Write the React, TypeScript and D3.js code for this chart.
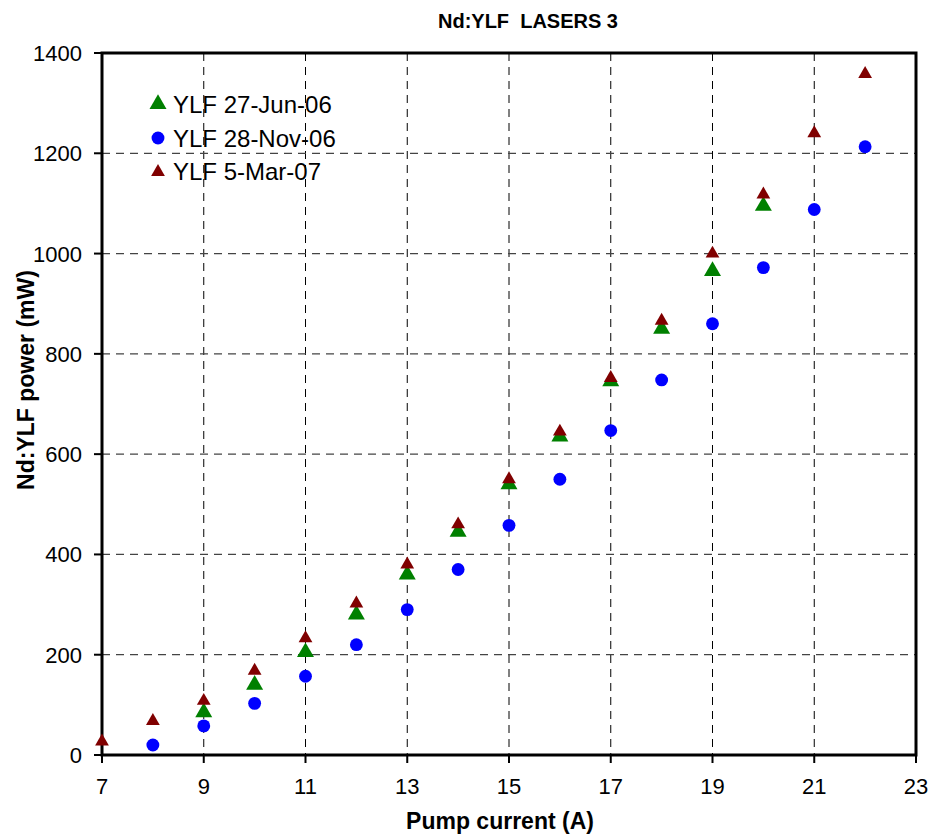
import * as d3 from 'd3';

const junCurrent = [9, 10, 11, 12, 13, 14, 15, 16, 17, 18, 19, 20];
const junPower = [85, 140, 205, 280, 360, 445, 540, 635, 745, 850, 965, 1095];

const novCurrent = [8, 9, 10, 11, 12, 13, 14, 15, 16, 17, 18, 19, 20, 21, 22];
const novPower = [20, 58, 103, 157, 220, 290, 370, 458, 550, 647, 748, 860, 972, 1088, 1213];

const marCurrent = [7, 8, 9, 10, 11, 12, 13, 14, 15, 16, 17, 18, 19, 20, 21, 22];
const marPower = [27, 68, 108, 168, 233, 302, 380, 460, 550, 645, 752, 866, 1000, 1118, 1240, 1358];

const xTicks = [7, 9, 11, 13, 15, 17, 19, 21, 23];
const yTicks = [0, 200, 400, 600, 800, 1000, 1200, 1400];

const legendLabels = ['YLF 27-Jun-06', 'YLF 28-Nov-06', 'YLF 5-Mar-07'];

const width = 934;
const height = 835;
const margin = { top: 53, right: 18, bottom: 80, left: 102 };

export default function App(): JSX.Element {
  const x = d3.scaleLinear()
    .domain([7, 23])
    .range([margin.left, width - margin.right]);

  const y = d3.scaleLinear()
    .domain([0, 1400])
    .range([height - margin.bottom, margin.top]);

  const bigTri = d3.symbol().type(d3.symbolTriangle).size(125)() || '';
  const smallTri = d3.symbol().type(d3.symbolTriangle).size(82)() || '';
  const dot = d3.symbol().type(d3.symbolCircle).size(130)() || '';

  const font = 'Arial, "Liberation Sans", sans-serif';
  const x0 = x(7), x1 = x(23), y0 = y(0), y1 = y(1400);

  return (
    <svg
      width={width}
      height={height}
      style={{ position: 'absolute', left: 0, top: 0, background: '#fff' }}
      fontFamily={font}
    >
      <text x={528} y={28} textAnchor="middle" fontSize={20} fontWeight="bold" style={{ whiteSpace: 'pre' }}>
        {'Nd:YLF  LASERS 3'}
      </text>

      {/* grid */}
      {xTicks.slice(1, -1).map(t => (
        <line key={'gx' + t} x1={x(t)} x2={x(t)} y1={y1} y2={y0}
          stroke="#000" strokeWidth={1} strokeDasharray="8,6" />
      ))}
      {yTicks.slice(1, -1).map(t => (
        <line key={'gy' + t} x1={x0} x2={x1} y1={y(t)} y2={y(t)}
          stroke="#444" strokeWidth={1.2} strokeDasharray="8,6" />
      ))}

      {/* frame */}
      <rect x={x0} y={y1} width={x1 - x0} height={y0 - y1} fill="none" stroke="#000" strokeWidth={3} />

      {/* y axis */}
      {yTicks.map(t => (
        <g key={'ty' + t} transform={`translate(${x0},${y(t)})`}>
          <line x2={-8} stroke="#000" strokeWidth={2} />
          <text x={-20} y={8} textAnchor="end" fontSize={22}>{t}</text>
        </g>
      ))}

      {/* x axis */}
      {xTicks.map(t => (
        <g key={'tx' + t} transform={`translate(${x(t)},${y0})`}>
          <line y2={8} stroke="#000" strokeWidth={2} />
          <text y={39} textAnchor="middle" fontSize={22}>{t}</text>
        </g>
      ))}

      <text x={500} y={829} textAnchor="middle" fontSize={23} fontWeight="bold">Pump current (A)</text>
      <text transform={`translate(34,380) rotate(-90)`} textAnchor="middle" fontSize={23} fontWeight="bold">
        Nd:YLF power (mW)
      </text>

      {/* series */}
      {novCurrent.map((c, i) => (
        <path key={'n' + c} d={dot} fill="#0000ff" transform={`translate(${x(c)},${y(novPower[i])})`} />
      ))}
      {junCurrent.map((c, i) => (
        <path key={'j' + c} d={bigTri} fill="#008000" transform={`translate(${x(c)},${y(junPower[i])})`} />
      ))}
      {marCurrent.map((c, i) => (
        <path key={'m' + c} d={smallTri} fill="#800000" transform={`translate(${x(c)},${y(marPower[i])})`} />
      ))}

      {/* legend */}
      <g fontSize={24}>
        <path d={bigTri} fill="#008000" transform="translate(158,104)" />
        <text x={173} y={113}>{legendLabels[0]}</text>
        <path d={dot} fill="#0000ff" transform="translate(158,138)" />
        <text x={173} y={147}>{legendLabels[1]}</text>
        <path d={smallTri} fill="#800000" transform="translate(158,172)" />
        <text x={173} y={180}>{legendLabels[2]}</text>
      </g>
    </svg>
  );
}
